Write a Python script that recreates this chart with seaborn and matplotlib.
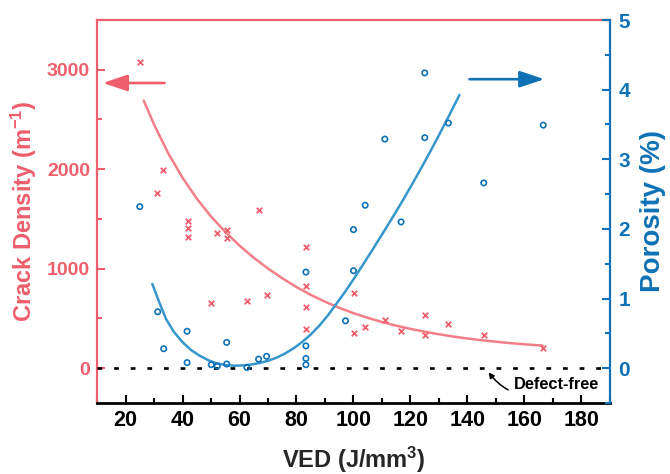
import numpy as np
import pandas as pd
import seaborn as sns
import matplotlib.pyplot as plt
from matplotlib.ticker import MultipleLocator

# colours
RED = '#EE5E6C'
RED_FIT = '#F27F88'
BLUE = '#0F72B6'
BLUE_FIT = '#3796CB'

# crack density measurements (red crosses)
crack_ved = [25.0, 31.2, 33.3, 41.8, 41.8, 41.8, 50.1, 52.2, 55.5, 55.5, 62.6,
             66.8, 69.5, 83.3, 83.3, 83.3, 83.3, 100.1, 100.1, 104.2, 111.1,
             116.7, 125.0, 125.0, 133.3, 145.7, 166.6]
crack_density = [3080, 1760, 1990, 1480, 1405, 1315, 659, 1358, 1384, 1304, 672,
                 1588, 736, 1217, 824, 619, 397, 760, 353, 413, 484,
                 370, 534, 337, 440, 337, 202]

# porosity measurements (blue circles)
por_ved = [25.0, 31.3, 33.4, 41.6, 41.6, 50.1, 52.2, 55.5, 55.5, 62.6, 66.7,
           69.5, 83.3, 83.3, 83.3, 83.3, 97.2, 100.0, 100.0, 104.1, 111.0,
           116.7, 125.0, 125.0, 133.3, 145.7, 166.6]
porosity = [2.32, 0.81, 0.28, 0.53, 0.08, 0.05, 0.03, 0.37, 0.06, 0.01, 0.13,
            0.17, 1.38, 0.32, 0.14, 0.05, 0.68, 1.99, 1.40, 2.34, 3.29,
            2.10, 4.24, 3.31, 3.52, 2.66, 3.49]

# fitted trend curves
crack_fit_ved = [26.4, 30, 35, 40, 45, 50, 55, 60, 65, 70, 75, 80, 85, 90, 95,
                 100, 105, 110, 115, 120, 125, 130, 135, 140, 145, 150, 155,
                 160, 166.4]
crack_fit = [2690, 2450, 2160, 1915, 1705, 1525, 1370, 1232, 1110, 1002, 904,
             815, 737, 668, 607, 553, 506, 464, 427, 395, 366, 341, 318, 298,
             281, 266, 252, 240, 227]

por_fit_ved = [29.4, 32, 34.3, 37, 40.1, 43, 46, 49, 52, 55, 58, 61, 64, 67,
               70, 73, 76, 79, 82, 85, 88, 91, 94, 97, 100, 103, 106, 109,
               112, 115, 118, 121, 124, 127, 130, 133, 135, 137.2]
por_fit = [1.21, 0.93, 0.70, 0.52, 0.37, 0.26, 0.18, 0.115, 0.07, 0.045,
           0.035, 0.04, 0.052, 0.073, 0.106, 0.151, 0.211, 0.286, 0.376,
           0.484, 0.61, 0.757, 0.925, 1.094, 1.277, 1.466, 1.658, 1.853,
           2.051, 2.252, 2.459, 2.672, 2.891, 3.116, 3.347, 3.584, 3.746,
           3.924]

crack_df = pd.DataFrame({'VED': crack_ved, 'crack': crack_density})
por_df = pd.DataFrame({'VED': por_ved, 'porosity': porosity})
crack_fit_df = pd.DataFrame({'VED': crack_fit_ved, 'crack': crack_fit})
por_fit_df = pd.DataFrame({'VED': por_fit_ved, 'porosity': por_fit})

sns.set_style('ticks')
plt.rcParams['font.family'] = ['Liberation Sans', 'DejaVu Sans']
plt.rcParams['font.weight'] = 'bold'
plt.rcParams['mathtext.fontset'] = 'custom'
plt.rcParams['mathtext.rm'] = 'Liberation Sans:bold'
plt.rcParams['mathtext.bf'] = 'Liberation Sans:bold'
plt.rcParams['mathtext.it'] = 'Liberation Sans:bold'

fig = plt.figure(figsize=(6.7, 4.74), dpi=100)
ax = fig.add_axes([0.1448, 0.1498, 0.7656, 0.808])
ax2 = ax.twinx()

# left axis: crack density
sns.lineplot(data=crack_fit_df, x='VED', y='crack', ax=ax, color=RED_FIT,
             lw=1.8, sort=False, estimator=None, zorder=2)
sns.scatterplot(data=crack_df, x='VED', y='crack', ax=ax, marker='x',
                color=RED, s=16, linewidth=1.3, zorder=3)

# right axis: porosity
sns.lineplot(data=por_fit_df, x='VED', y='porosity', ax=ax2, color=BLUE_FIT,
             lw=1.8, sort=False, estimator=None, zorder=2)
sns.scatterplot(data=por_df, x='VED', y='porosity', ax=ax2, marker='o',
                facecolor='none', edgecolor=BLUE, s=15, linewidth=1.2, zorder=3)

ax2.axhline(0, color='black', lw=1.9, dashes=(1.8, 4.5), zorder=1)

ax.set_xlim(10, 190)
ax.set_ylim(-350, 3500)
ax2.set_ylim(-0.5, 5)

ax.xaxis.set_major_locator(MultipleLocator(20))
ax.xaxis.set_minor_locator(MultipleLocator(10))
ax.set_xticks(range(20, 181, 20))
ax.yaxis.set_major_locator(MultipleLocator(1000))
ax.yaxis.set_minor_locator(MultipleLocator(500))
ax.set_yticks([0, 1000, 2000, 3000])
ax2.yaxis.set_major_locator(MultipleLocator(1))
ax2.yaxis.set_minor_locator(MultipleLocator(0.5))

ax.set_xlabel('VED (J/mm$^{3}$)', fontsize=17, fontweight='bold', labelpad=10)
ax.set_ylabel('Crack Density (m$^{-1}$)', fontsize=17, fontweight='bold',
              color=RED, labelpad=6)
ax2.set_ylabel('Porosity (%)', fontsize=20, fontweight='bold',
               color=BLUE, labelpad=7)

ax.tick_params(axis='x', which='both', direction='in', colors='black',
               labelsize=15.5, pad=5, width=1.5)
ax.tick_params(axis='x', which='major', length=6)
ax.tick_params(axis='x', which='minor', length=3.5)
ax.tick_params(axis='y', which='both', direction='in', colors=RED,
               labelsize=14, pad=5, width=1.5)
ax.tick_params(axis='y', which='major', length=6)
ax.tick_params(axis='y', which='minor', length=3.5)
ax2.tick_params(axis='y', which='both', direction='in', colors=BLUE,
                labelsize=15, pad=6, width=1.5)
ax2.tick_params(axis='y', which='major', length=6)
ax2.tick_params(axis='y', which='minor', length=3.5)
for lab in ax.get_xticklabels() + ax.get_yticklabels() + ax2.get_yticklabels():
    lab.set_fontweight('bold')

for side in ['left', 'top']:
    ax.spines[side].set_color(RED)
    ax.spines[side].set_linewidth(1.6)
ax.spines['bottom'].set_color('black')
ax.spines['bottom'].set_linewidth(2)
ax.spines['right'].set_visible(False)
for side in ['left', 'top', 'bottom']:
    ax2.spines[side].set_visible(False)
ax2.spines['right'].set_color(BLUE)
ax2.spines['right'].set_linewidth(1.6)

# direction arrows
ax.annotate('', xy=(12.0, 2867), xytext=(33.7, 2867),
            arrowprops=dict(arrowstyle='-|>,head_length=0.75,head_width=0.25',
                            mutation_scale=20, lw=1.9, color=RED,
                            shrinkA=0, shrinkB=0))
ax2.annotate('', xy=(167.0, 4.15), xytext=(140.7, 4.15),
             arrowprops=dict(arrowstyle='-|>,head_length=0.75,head_width=0.25',
                             mutation_scale=20, lw=1.9, color=BLUE,
                             shrinkA=0, shrinkB=0))

ax2.annotate('Defect-free', xy=(147.4, -0.06), xytext=(156.3, -0.24),
             fontsize=11.8, fontweight='bold', color='black',
             ha='left', va='center',
             arrowprops=dict(arrowstyle='-|>,head_length=0.4,head_width=0.2',
                             mutation_scale=8, lw=1.1, color='black',
                             connectionstyle='arc3,rad=-0.45',
                             shrinkA=2, shrinkB=0))

fig.savefig('out.png', dpi=100)
